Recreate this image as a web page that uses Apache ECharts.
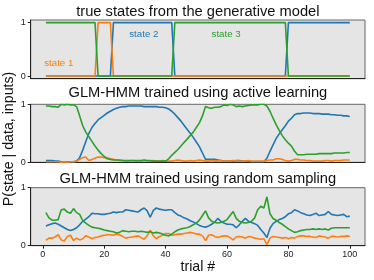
<!DOCTYPE html>
<html>
<head>
<meta charset="utf-8">
<script src="https://cdn.jsdelivr.net/npm/echarts@6/dist/echarts.min.js"></script>
<style>
html,body{margin:0;padding:0;background:#fff;}
#chart{width:374px;height:280px;}
</style>
</head>
<body>
<div id="chart"></div>
<script>
// ---- data ----
const titles = ['true states from the generative model', 'GLM-HMM trained using active learning', 'GLM-HMM trained using random sampling'];
const stateNames = ['state 1', 'state 2', 'state 3'];
const xTicks = [0, 20, 40, 60, 80, 100];
const yTicks = [0, 1];

// true states (panel 1)
const trueState1 = [0,0,0,0,0,0,0,0,0,0, 0,0,0,0,0,0,0,1,1,1, 1,1,0,0,0,0,0,0,0,0, 0,0,0,0,0,0,0,0,0,0, 0,0,0,0,0,0,0,0,0,0, 0,0,0,0,0,0,0,0,0,0, 0,0,0,0,0,0,0,0,0,0, 0,0,0,0,0,0,0,0,0,0, 0,0,0,0,0,0,0,0,0,0, 0,0,0,0,0,0,0,0,0,0];
const trueState2 = [0,0,0,0,0,0,0,0,0,0, 0,0,0,0,0,0,0,0,0,0, 0,0,1,1,1,1,1,1,1,1, 1,1,1,1,1,1,1,1,1,1, 1,1,0,0,0,0,0,0,0,0, 0,0,0,0,0,0,0,0,0,0, 0,0,0,0,0,0,0,0,0,0, 0,0,0,0,0,0,0,0,0,1, 1,1,1,1,1,1,1,1,1,1, 1,1,1,1,1,1,1,1,1,1];
const trueState3 = [1,1,1,1,1,1,1,1,1,1, 1,1,1,1,1,1,1,0,0,0, 0,0,0,0,0,0,0,0,0,0, 0,0,0,0,0,0,0,0,0,0, 0,0,1,1,1,1,1,1,1,1, 1,1,1,1,1,1,1,1,1,1, 1,1,1,1,1,1,1,1,1,1, 1,1,1,1,1,1,1,1,1,0, 0,0,0,0,0,0,0,0,0,0, 0,0,0,0,0,0,0,0,0,0];

// active learning (panel 2)
const activeState1 = [0.01,0.01,0.01,0.01,0.01,0.00,0.01,0.00,0.01,0.01, 0.02,0.05,0.08,0.09,0.03,0.05,0.07,0.09,0.09,0.08, 0.08,0.06,0.05,0.04,0.03,0.03,0.02,0.02,0.03,0.02, 0.02,0.02,0.03,0.02,0.02,0.03,0.02,0.02,0.03,0.02, 0.02,0.02,0.03,0.04,0.03,0.02,0.02,0.03,0.02,0.03, 0.04,0.03,0.02,0.02,0.03,0.02,0.02,0.03,0.02,0.02, 0.02,0.03,0.02,0.02,0.02,0.02,0.03,0.02,0.02,0.02, 0.02,0.02,0.03,0.04,0.04,0.06,0.06,0.05,0.03,0.02, 0.03,0.05,0.05,0.04,0.04,0.03,0.03,0.02,0.02,0.02, 0.02,0.03,0.03,0.02,0.03,0.03,0.03,0.04,0.04,0.04];
const activeState2 = [0.03,0.03,0.03,0.02,0.02,0.01,0.01,0.01,0.01,0.01, 0.02,0.08,0.21,0.36,0.50,0.60,0.67,0.73,0.77,0.81, 0.85,0.88,0.91,0.93,0.95,0.96,0.96,0.97,0.97,0.97, 0.97,0.97,0.96,0.96,0.96,0.96,0.96,0.95,0.95,0.94, 0.92,0.88,0.83,0.77,0.71,0.64,0.57,0.50,0.43,0.35, 0.27,0.16,0.05,0.05,0.05,0.05,0.04,0.03,0.02,0.02, 0.02,0.02,0.03,0.03,0.02,0.02,0.02,0.01,0.01,0.01, 0.01,0.01,0.07,0.19,0.30,0.41,0.49,0.56,0.63,0.71, 0.76,0.82,0.84,0.84,0.85,0.85,0.85,0.84,0.84,0.84, 0.83,0.83,0.83,0.82,0.82,0.81,0.81,0.80,0.80,0.79];
const activeState3 = [0.97,0.97,0.96,0.96,0.95,1.00,0.99,1.00,0.99,0.99, 0.96,0.80,0.63,0.52,0.44,0.36,0.28,0.21,0.15,0.10, 0.06,0.05,0.04,0.04,0.04,0.03,0.03,0.03,0.03,0.03, 0.03,0.03,0.04,0.03,0.03,0.02,0.02,0.02,0.02,0.02, 0.06,0.12,0.17,0.22,0.28,0.34,0.40,0.46,0.52,0.60, 0.68,0.80,0.96,0.94,0.93,0.95,0.95,0.96,0.99,0.98, 1.00,0.99,0.96,0.97,0.96,0.97,0.98,0.99,0.99,0.99, 1.00,1.00,0.97,0.88,0.76,0.65,0.55,0.46,0.39,0.33, 0.28,0.19,0.13,0.13,0.13,0.14,0.14,0.14,0.14,0.15, 0.15,0.15,0.15,0.15,0.16,0.16,0.16,0.16,0.17,0.17];

// random sampling (panel 3)
const randomState1 = [0.09,0.13,0.13,0.15,0.19,0.10,0.08,0.16,0.18,0.09, 0.13,0.10,0.12,0.17,0.15,0.12,0.14,0.15,0.17,0.18, 0.19,0.19,0.18,0.20,0.19,0.16,0.13,0.14,0.15,0.16, 0.17,0.14,0.11,0.17,0.27,0.17,0.12,0.16,0.18,0.21, 0.21,0.18,0.19,0.20,0.20,0.21,0.22,0.23,0.22,0.20, 0.20,0.17,0.09,0.18,0.19,0.16,0.14,0.16,0.17,0.17, 0.14,0.10,0.15,0.16,0.15,0.13,0.16,0.15,0.13,0.12, 0.11,0.12,0.02,0.13,0.16,0.15,0.14,0.13,0.14,0.12, 0.14,0.13,0.16,0.17,0.17,0.16,0.16,0.15,0.14,0.17, 0.16,0.15,0.13,0.16,0.16,0.15,0.16,0.16,0.17,0.16];
const randomState2 = [0.34,0.36,0.38,0.39,0.37,0.34,0.31,0.28,0.26,0.28, 0.31,0.36,0.42,0.46,0.50,0.56,0.55,0.55,0.54,0.54, 0.55,0.56,0.58,0.57,0.58,0.58,0.62,0.61,0.60,0.59, 0.58,0.62,0.65,0.60,0.49,0.61,0.65,0.63,0.62,0.61, 0.62,0.62,0.57,0.53,0.51,0.48,0.46,0.43,0.41,0.38, 0.35,0.33,0.32,0.34,0.37,0.41,0.47,0.42,0.39,0.37, 0.37,0.36,0.31,0.36,0.42,0.47,0.42,0.40,0.38,0.35, 0.28,0.22,0.14,0.30,0.38,0.42,0.45,0.47,0.50,0.55, 0.57,0.62,0.60,0.57,0.55,0.53,0.52,0.54,0.56,0.52, 0.53,0.54,0.59,0.54,0.53,0.52,0.53,0.54,0.50,0.51];
const randomState3 = [0.57,0.48,0.44,0.44,0.45,0.62,0.63,0.58,0.56,0.64, 0.57,0.54,0.43,0.39,0.35,0.32,0.31,0.30,0.29,0.27, 0.26,0.25,0.24,0.22,0.23,0.26,0.25,0.24,0.25,0.25, 0.24,0.25,0.24,0.23,0.24,0.22,0.23,0.22,0.20,0.18, 0.17,0.20,0.24,0.27,0.29,0.30,0.31,0.33,0.36,0.39, 0.44,0.52,0.60,0.48,0.42,0.40,0.39,0.40,0.42,0.45, 0.52,0.59,0.47,0.42,0.40,0.39,0.40,0.42,0.48,0.62, 0.68,0.65,0.84,0.55,0.47,0.44,0.40,0.37,0.33,0.29, 0.26,0.23,0.24,0.26,0.27,0.28,0.28,0.29,0.28,0.29, 0.28,0.29,0.27,0.30,0.31,0.31,0.31,0.31,0.31,0.31];

// ---- chart ----
const C_BLUE = '#1f77b4', C_ORANGE = '#ff7f0e', C_GREEN = '#2ca02c';
const FONT = '"Liberation Sans", Arial, Helvetica, sans-serif';
const pair = arr => arr.map((v, i) => [i + 1, v]);

const gridLeft = 30.7, gridRight = 9;
const grids = [
  {top: 20, height: 58.7},
  {top: 104.3, height: 58},
  {top: 187.7, height: 58}
];

const panels = [
  [trueState2, trueState1, trueState3],
  [activeState2, activeState1, activeState3],
  [randomState2, randomState1, randomState3]
];
const colors = [C_BLUE, C_ORANGE, C_GREEN];

const option = {
  animation: false,
  backgroundColor: '#ffffff',
  grid: grids.map(g => ({
    left: gridLeft, right: gridRight, top: g.top, height: g.height,
    show: true, backgroundColor: '#e5e5e5', borderColor: '#666', borderWidth: 1
  })),
  xAxis: grids.map((g, i) => ({
    type: 'value', gridIndex: i, min: -3.95, max: 104.95,
    axisLine: {show: true, onZero: false, lineStyle: {color: '#222', width: 1}},
    splitLine: {show: false},
    axisTick: {show: i === 2, length: 3, lineStyle: {color: '#222'}, customValues: xTicks},
    axisLabel: {show: i === 2, customValues: xTicks, fontSize: 9, color: '#222', fontFamily: FONT, margin: 4}
  })),
  yAxis: grids.map((g, i) => ({
    type: 'value', gridIndex: i,
    min: i === 0 ? -0.05 : 0, max: i === 0 ? 1.05 : 1,
    axisLine: {show: true, onZero: false, lineStyle: {color: '#222', width: 1}},
    splitLine: {show: false},
    axisTick: {show: true, length: 3, lineStyle: {color: '#222'}, customValues: yTicks},
    axisLabel: {show: true, customValues: yTicks, fontSize: 9, color: '#222', fontFamily: FONT, margin: 5}
  })),
  series: [],
  graphic: []
};

panels.forEach((p, gi) => {
  p.forEach((arr, si) => {
    const s = {
      type: 'line', xAxisIndex: gi, yAxisIndex: gi,
      data: pair(arr), showSymbol: false, symbol: 'none',
      lineStyle: {color: colors[si], width: 1.6},
      itemStyle: {color: colors[si]},
      z: 2 + si
    };
    if (gi === 0) {
      const coords = [[32.9, 0.775], [5.2, 0.24], [59.7, 0.775]];
      const names = [stateNames[1], stateNames[0], stateNames[2]];
      s.markPoint = {
        symbol: 'circle', symbolSize: 0, silent: true,
        data: [{coord: coords[si], value: names[si]}],
        label: {show: true, position: 'inside', formatter: names[si], color: colors[si], fontSize: 9.7, fontFamily: FONT}
      };
    }
    option.series.push(s);
  });
});

const titleY = [11.5, 93, 179];
titles.forEach((t, i) => {
  option.graphic.push({
    type: 'text', x: (gridLeft + 374 - gridRight) / 2, y: titleY[i],
    style: {text: t, fill: '#111', font: '14.7px ' + FONT, textAlign: 'center', textVerticalAlign: 'middle'}
  });
});
option.graphic.push({
  type: 'text', x: 9, y: 139, rotation: Math.PI / 2,
  style: {text: 'P(state | data, inputs)', fill: '#111', font: '14.2px ' + FONT, textAlign: 'center', textVerticalAlign: 'middle'}
});
option.graphic.push({
  type: 'text', x: 197.9, y: 266.7,
  style: {text: 'trial #', fill: '#111', font: '14.2px ' + FONT, textAlign: 'center', textVerticalAlign: 'middle'}
});

const chart = echarts.init(document.getElementById('chart'), null, {renderer: 'canvas'});
chart.setOption(option);
</script>
</body>
</html>
